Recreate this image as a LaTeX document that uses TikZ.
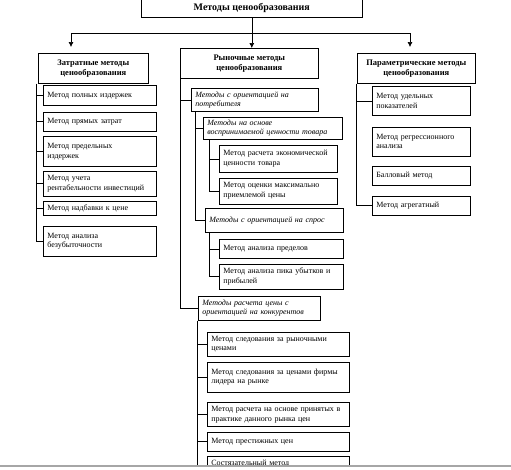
\documentclass[tikz,border=0pt]{standalone}
\usepackage{fontspec}
\setmainfont{Liberation Serif}
\usetikzlibrary{arrows.meta,positioning}

\begin{document}
\begin{tikzpicture}[
  x=1pt, y=-1pt,
  font=\fontsize{8}{9.5}\selectfont,
  box/.style={draw, line width=0.6pt, inner xsep=4pt, inner ysep=1pt},
  head/.style={box, align=center, font=\fontsize{8.5}{10}\selectfont\bfseries},
  group/.style={box, align=left, font=\fontsize{8}{9.5}\selectfont\itshape},
  leaf/.style={box, align=left},
  costleaf/.style={leaf, text width=105pt},
  compleaf/.style={leaf, text width=134pt},
  parleaf/.style={leaf, text width=90pt},
  arrow/.style={-{Latex[length=5pt,width=5pt]}, line width=0.6pt},
  line/.style={line width=0.6pt},
]
\useasboundingbox (0,0) rectangle (511,469);

\node[box, anchor=north west, minimum width=221pt, minimum height=18pt, font=\fontsize{10}{12}\selectfont\bfseries] (title) at (141,-1) {Методы ценообразования};

\node[head, anchor=north west, minimum width=110pt, minimum height=30pt] (cost) at (38,53) {Затратные методы\\ценообразования};
\node[head, anchor=north west, minimum width=138pt, minimum height=30pt] (market) at (180,48) {Рыночные методы\\ценообразования};
\node[head, anchor=north west, minimum width=118pt, minimum height=30pt] (param) at (357,53) {Параметрические методы\\ценообразования};

\node[costleaf, anchor=north west, minimum height=20pt] (cost1) at (43,85) {Метод полных издержек};
\node[costleaf, minimum height=19pt, below=6pt of cost1.south west, anchor=north west] (cost2) {Метод прямых затрат};
\node[costleaf, minimum height=30pt, below=5pt of cost2.south west, anchor=north west] (cost3) {Метод предельных\\издержек};
\node[costleaf, minimum height=25pt, below=4pt of cost3.south west, anchor=north west] (cost4) {Метод учета\\рентабельности инвестиций};
\node[costleaf, minimum height=14pt, below=5pt of cost4.south west, anchor=north west] (cost5) {Метод надбавки к цене};
\node[costleaf, minimum height=30pt, below=10pt of cost5.south west, anchor=north west] (cost6) {Метод анализа\\безубыточности};

\node[group, anchor=north west, text width=119pt, minimum height=23pt] (cons) at (191,88) {Методы с ориентацией на\\потребителя};
\node[group, anchor=north west, text width=131pt, minimum height=22pt] (perc) at (203,117) {Методы на основе\\воспринимаемой ценности товара};
\node[leaf, anchor=north west, text width=110pt, minimum height=27pt] (perc1) at (219,145) {Метод расчета экономической\\ценности товара};
\node[leaf, text width=110pt, minimum height=26pt, below=5pt of perc1.south west, anchor=north west] (perc2) {\makebox[110pt][s]{Метод оценки максимально}\\приемлемой цены};
\node[group, anchor=north west, text width=130pt, minimum height=24pt] (dem) at (205,208) {Методы с ориентацией на спрос};
\node[leaf, anchor=north west, text width=116pt, minimum height=19pt] (dem1) at (219,239) {Метод анализа пределов};
\node[leaf, text width=116pt, minimum height=25pt, below=5pt of dem1.south west, anchor=north west] (dem2) {Метод анализа пика убытков и\\прибылей};

\node[group, anchor=north west, text width=114pt, minimum height=24pt] (comp) at (198,296) {Методы расчета цены с\\ориентацией на конкурентов};
\node[compleaf, anchor=north west, minimum height=24pt] (comp1) at (207,332) {Метод следования за рыночными\\ценами};
\node[compleaf, minimum height=30pt, below=5pt of comp1.south west, anchor=north west] (comp2) {Метод следования за ценами фирмы\\лидера на рынке};
\node[compleaf, minimum height=24pt, below=10pt of comp2.south west, anchor=north west] (comp3) {Метод расчета на основе принятых в\\практике данного рынка цен};
\node[compleaf, minimum height=19pt, below=5pt of comp3.south west, anchor=north west] (comp4) {Метод престижных цен};
\node[compleaf, minimum height=14pt, below=5pt of comp4.south west, anchor=north west] (comp5) {Состязательный метод};

\node[parleaf, anchor=north west, minimum height=29pt] (par1) at (372,86) {Метод удельных\\показателей};
\node[parleaf, minimum height=29pt, below=11pt of par1.south west, anchor=north west] (par2) {Метод регрессионного\\анализа};
\node[parleaf, minimum height=19pt, below=10pt of par2.south west, anchor=north west] (par3) {Балловый метод};
\node[parleaf, minimum height=19pt, below=10pt of par3.south west, anchor=north west] (par4) {Метод агрегатный};

\coordinate (forkl) at (71,33);
\coordinate (forkr) at (410,33);
\draw[line] (forkl) -- (forkr);
\draw[arrow] (title.south) -- (title.south |- market.north);
\draw[arrow, shorten >=6pt] (forkl) -- (forkl |- cost.north);
\draw[arrow, shorten >=6pt] (forkr) -- (forkr |- param.north);

\coordinate (costbus) at ([xshift=-2pt]cost.south west);
\draw[line] (costbus) |- (cost6.west);
\foreach \i in {1,...,5} \draw[line] (costbus |- cost\i.west) -- (cost\i.west);

\draw[line] (market.south west) |- (comp.west);
\draw[line] (market.south west |- cons.west) -- (cons.west);
\coordinate (consbus) at ([xshift=4pt]cons.south west);
\draw[line] (consbus) |- (dem.west);
\draw[line] (consbus |- perc.west) -- (perc.west);
\coordinate (percbus) at ([xshift=6pt]perc.south west);
\draw[line] (percbus) |- (perc2.west);
\draw[line] (percbus |- perc1.west) -- (perc1.west);
\coordinate (dembus) at ([xshift=4pt]dem.south west);
\draw[line] (dembus) |- (dem2.west);
\draw[line] (dembus |- dem1.west) -- (dem1.west);
\coordinate (compbus) at ([xshift=-1pt]comp.south west);
\draw[line] (compbus) -- (compbus |- comp5.south);
\foreach \i in {1,...,4} \draw[line] (compbus |- comp\i.west) -- (comp\i.west);

\coordinate (parbus) at ([xshift=-1pt]param.south west);
\draw[line] (parbus) |- (par4.west);
\draw[line] (parbus |- par1.west) -- (par1.west);

\fill[white] (0,466) rectangle (511,470);
\draw[black!35, line width=1.2pt] (0,466) -- (511,466);
\end{tikzpicture}
\end{document}
